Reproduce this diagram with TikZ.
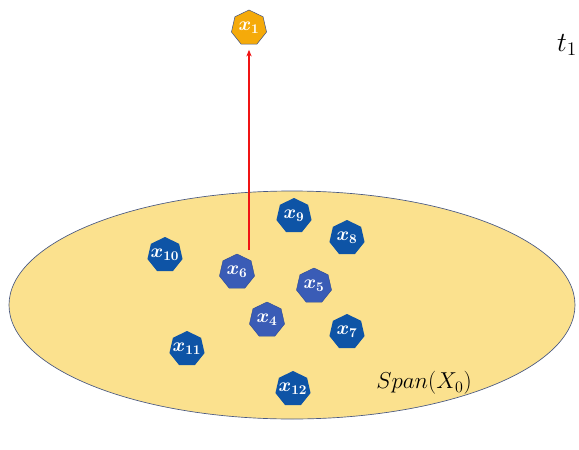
\documentclass[tikz,border=0pt]{standalone}
\usepackage{amsmath}
\usepackage{tikz}
\usetikzlibrary{arrows.meta,shapes.geometric}
\definecolor{spanfill}{RGB}{251,225,142}
\definecolor{spanline}{RGB}{72,88,130}
\definecolor{ptdark}{RGB}{14,84,166}
\definecolor{ptlight}{RGB}{58,92,182}
\definecolor{ptorange}{RGB}{245,170,10}
\definecolor{liftred}{RGB}{240,20,20}
\newcommand{\ptlabel}[1]{\makebox[0pt]{\boldmath$#1$}}
\tikzset{
  pt/.style={regular polygon, regular polygon sides=7, minimum size=27pt,
             inner sep=0pt, fill=ptdark, text=white, font=\Large},
  ptsoft/.style={pt, fill=ptlight, draw=ptlight!80!black, line width=0.3pt},
  ptnew/.style={pt, fill=ptorange, draw=spanline, line width=0.4pt},
  lift/.style={liftred, line width=1pt, shorten >=4pt,
               -{Stealth[length=5pt,width=4pt]}},
}

\begin{document}
\begin{tikzpicture}[x=0.75pt, y=-0.75pt]
  \useasboundingbox (0,0) rectangle (579,450);
  % the subspace
  \draw[spanline, fill=spanfill, line width=0.5pt] (292,305) ellipse [x radius=283, y radius=114];
  \node[font=\LARGE] (span) at (424,383) {$Span(X_0)$};
  % points in the span
  \node[pt] (x9) at (294,216) {\ptlabel{x_9}};
  \node[pt] (x8) at (347,238) {\ptlabel{x_8}};
  \node[pt] (x10) at (165,255) {\ptlabel{x_{10}}};
  \node[ptsoft] (x6) at (237,272) {\ptlabel{x_6}};
  \node[ptsoft] (x5) at (314,286) {\ptlabel{x_5}};
  \node[ptsoft] (x4) at (267,320) {\ptlabel{x_4}};
  \node[pt] (x7) at (347,332) {\ptlabel{x_7}};
  \node[pt] (x11) at (187,349) {\ptlabel{x_{11}}};
  \node[pt] (x12) at (293,389) {\ptlabel{x_{12}}};
  % new point
  \node[ptnew] (x1) at (249,28) {\ptlabel{x_1}};
  \coordinate (base) at (249,250);
  \draw[lift] (base) -- (x1);
  \node[font=\huge] (t1) at (567,45) {$t_1$};
\end{tikzpicture}
\end{document}
